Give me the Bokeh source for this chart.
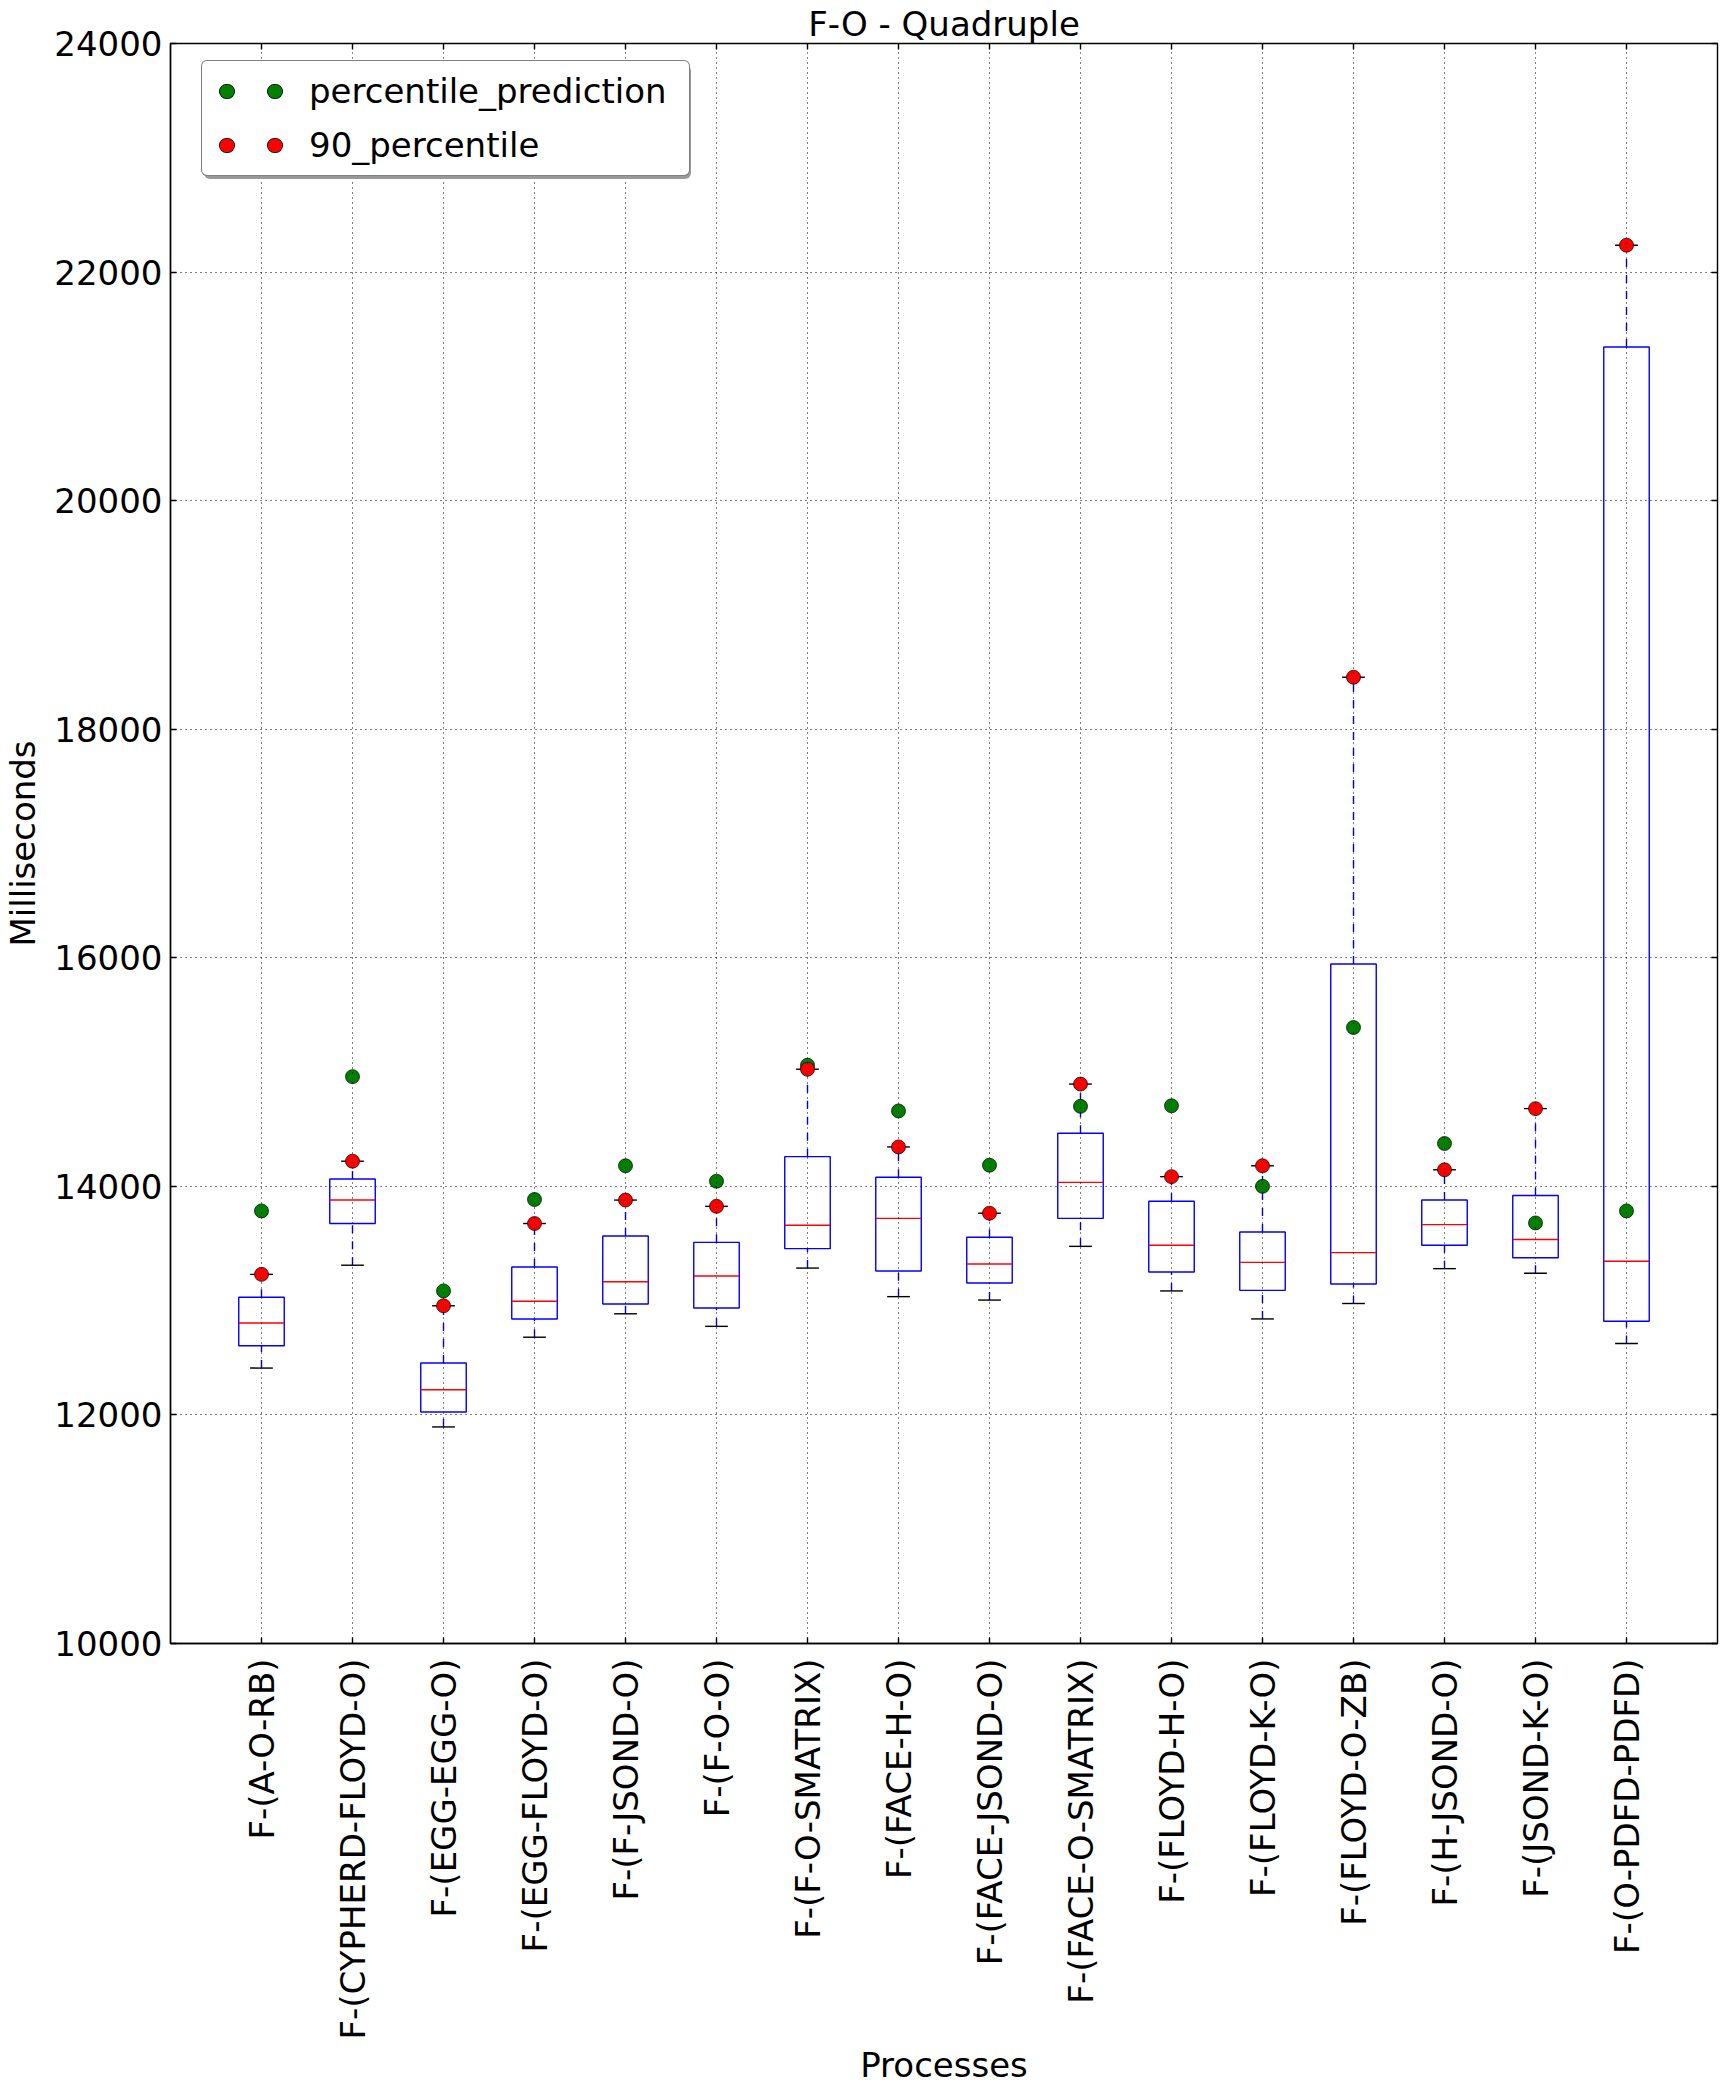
import math
from bokeh.plotting import figure
from bokeh.models import (Range1d, FixedTicker, LinearAxis, Legend, LegendItem,
                          ColumnDataSource)
from bokeh.transform import dodge
from bokeh.embed import file_html
from bokeh.resources import INLINE

# ---------------- data ----------------
processes = [
    "F-(A-O-RB)", "F-(CYPHERD-FLOYD-O)", "F-(EGG-EGG-O)", "F-(EGG-FLOYD-O)",
    "F-(F-JSOND-O)", "F-(F-O-O)", "F-(F-O-SMATRIX)", "F-(FACE-H-O)",
    "F-(FACE-JSOND-O)", "F-(FACE-O-SMATRIX)", "F-(FLOYD-H-O)", "F-(FLOYD-K-O)",
    "F-(FLOYD-O-ZB)", "F-(H-JSOND-O)", "F-(JSOND-K-O)", "F-(O-PDFD-PDFD)",
]
lower_whisker = [12410, 13310, 11895, 12680, 12885, 12775, 13285, 13035,
                 13005, 13475, 13085, 12840, 12975, 13280, 13240, 12625]
q1 = [12605, 13675, 12025, 12840, 12970, 12935, 13455, 13260,
      13155, 13720, 13250, 13090, 13145, 13485, 13375, 12820]
median = [12805, 13880, 12220, 12995, 13165, 13215, 13660, 13720,
          13320, 14035, 13485, 13335, 13420, 13665, 13535, 13345]
q3 = [13030, 14065, 12455, 13295, 13565, 13510, 14260, 14080,
      13555, 14465, 13870, 13600, 15945, 13880, 13920, 21345]
percentile_90 = [13230, 14220, 12955, 13675, 13880, 13825, 15025, 14345,
                 13765, 14895, 14085, 14180, 18455, 14145, 14680, 22235]
percentile_prediction = [13785, 14960, 13085, 13885, 14180, 14045, 15060, 14660,
                         14185, 14700, 14705, 14000, 15390, 14375, 13680, 13785]
y_ticks = [10000, 12000, 14000, 16000, 18000, 20000, 22000, 24000]

positions = list(range(1, len(processes) + 1))
source = ColumnDataSource(dict(x=positions, lo=lower_whisker, q1=q1, med=median,
                               q3=q3, p90=percentile_90, pred=percentile_prediction))

FONT = "DejaVu Sans"
FS = "34px"
BLUE = "#0000ff"
RED = "#ff0000"
GREEN = "#008000"
LW = 1.4

p = figure(width=1726, height=2092,
           x_range=Range1d(0, len(processes) + 1), y_range=Range1d(y_ticks[0], y_ticks[-1]),
           output_backend="svg", toolbar_location=None,
           min_border_left=167, min_border_right=9, min_border_top=43, min_border_bottom=449,
           title="F-O - Quadruple", x_axis_label="Processes", y_axis_label="Milliseconds")
p.background_fill_color = "white"
p.border_fill_color = "white"
p.outline_line_color = "black"
p.outline_line_width = LW

# title
p.title.text_font = FONT
p.title.text_font_size = FS
p.title.text_font_style = "normal"
p.title.text_color = "black"
p.title.align = "center"
p.title.standoff = 0

# grid: dotted, drawn above the glyphs but below the legend
p.grid.grid_line_color = "black"
p.grid.grid_line_dash = "1 4"
p.grid.grid_line_alpha = 1.0
p.grid.grid_line_width = 1
p.grid.level = "guide"

# axes
for ax in (p.xaxis[0], p.yaxis[0]):
    ax.major_label_text_font = FONT
    ax.major_label_text_font_size = FS
    ax.major_label_text_color = "black"
    ax.axis_label_text_font = FONT
    ax.axis_label_text_font_size = FS
    ax.axis_label_text_font_style = "normal"
    ax.axis_label_text_color = "black"
    ax.major_tick_in = 6
    ax.major_tick_out = 0
    ax.major_tick_line_color = "black"
    ax.major_tick_line_width = LW
    ax.minor_tick_line_color = None
    ax.axis_line_color = "black"
    ax.axis_line_width = LW

p.yaxis[0].ticker = FixedTicker(ticks=y_ticks)
p.yaxis[0].major_label_standoff = 8
p.yaxis[0].axis_label_standoff = 8

p.xaxis[0].ticker = FixedTicker(ticks=positions)
p.xaxis[0].major_label_overrides = {pos: lab for pos, lab in zip(positions, processes)}
p.xaxis[0].major_label_orientation = math.pi / 2
p.xaxis[0].major_label_standoff = 15
p.xaxis[0].axis_label_standoff = 2

# inward ticks on the right and top sides, no labels
right_ax = LinearAxis(ticker=FixedTicker(ticks=y_ticks), major_label_text_font_size="0px",
                      major_label_text_alpha=0, major_label_standoff=0,
                      major_tick_in=6, major_tick_out=0, major_tick_line_width=LW,
                      minor_tick_line_color=None, axis_line_color=None)
top_ax = LinearAxis(ticker=FixedTicker(ticks=positions), major_label_text_font_size="0px",
                    major_label_text_alpha=0, major_label_standoff=0,
                    major_tick_in=6, major_tick_out=0, major_tick_line_width=LW,
                    minor_tick_line_color=None, axis_line_color=None)
p.add_layout(right_ax, "right")
p.add_layout(top_ax, "above")

# ---------------- box plots ----------------
p.segment(x0="x", y0="q3", x1="x", y1="p90", source=source,
          line_color=BLUE, line_width=LW, line_dash="8 8")
p.segment(x0="x", y0="lo", x1="x", y1="q1", source=source,
          line_color=BLUE, line_width=LW, line_dash="8 8")
p.vbar(x="x", width=0.5, bottom="q1", top="q3", source=source,
       fill_color=None, line_color=BLUE, line_width=LW)
p.segment(x0=dodge("x", -0.25), y0="med", x1=dodge("x", 0.25), y1="med", source=source,
          line_color=RED, line_width=LW)
p.segment(x0=dodge("x", -0.125), y0="p90", x1=dodge("x", 0.125), y1="p90", source=source,
          line_color="black", line_width=LW)
p.segment(x0=dodge("x", -0.125), y0="lo", x1=dodge("x", 0.125), y1="lo", source=source,
          line_color="black", line_width=LW)

p.scatter("x", "pred", source=source, size=14, fill_color=GREEN,
          line_color="black", line_width=0.7)
p.scatter("x", "p90", source=source, size=14, fill_color=RED,
          line_color="black", line_width=0.7)

# ---------------- legend (two dots per entry, like matplotlib numpoints=2) ----------------
# legend-only renderers: one undefined (NaN) point, so nothing shows in the plot area
blank = ColumnDataSource(dict(x=[float("nan")], y=[float("nan")]))


def dot_pair(color):
    edge = p.line("x", "y", source=blank, line_color="black", line_width=15,
                  line_dash="1 47", line_dash_offset=34, line_cap="round")
    fill = p.line("x", "y", source=blank, line_color=color, line_width=13.5,
                  line_dash="1 47", line_dash_offset=34, line_cap="round")
    return [edge, fill]


ghost = p.line("x", "y", source=blank, line_alpha=0)

common = dict(glyph_width=72, glyph_height=40, label_standoff=25, label_width=370,
              spacing=14, padding=10,
              label_text_font=FONT, label_text_font_size=FS)

shadow = Legend(items=[LegendItem(label="percentile_prediction", renderers=[ghost]),
                       LegendItem(label="90_percentile", renderers=[ghost])],
                location=(34, 1464), label_text_alpha=0,
                background_fill_color="#999999", background_fill_alpha=1,
                border_line_alpha=0, **common)
main = Legend(items=[LegendItem(label="percentile_prediction", renderers=dot_pair(GREEN)),
                     LegendItem(label="90_percentile", renderers=dot_pair(RED))],
              location=(31, 1467), label_text_color="black",
              background_fill_color="white", background_fill_alpha=1,
              border_line_color="black", border_line_width=LW, **common)
if "border_radius" in Legend.properties():
    shadow.border_radius = 6
    main.border_radius = 6
p.add_layout(shadow)
p.add_layout(main)

open("out.html", "w").write(file_html(p, INLINE))
